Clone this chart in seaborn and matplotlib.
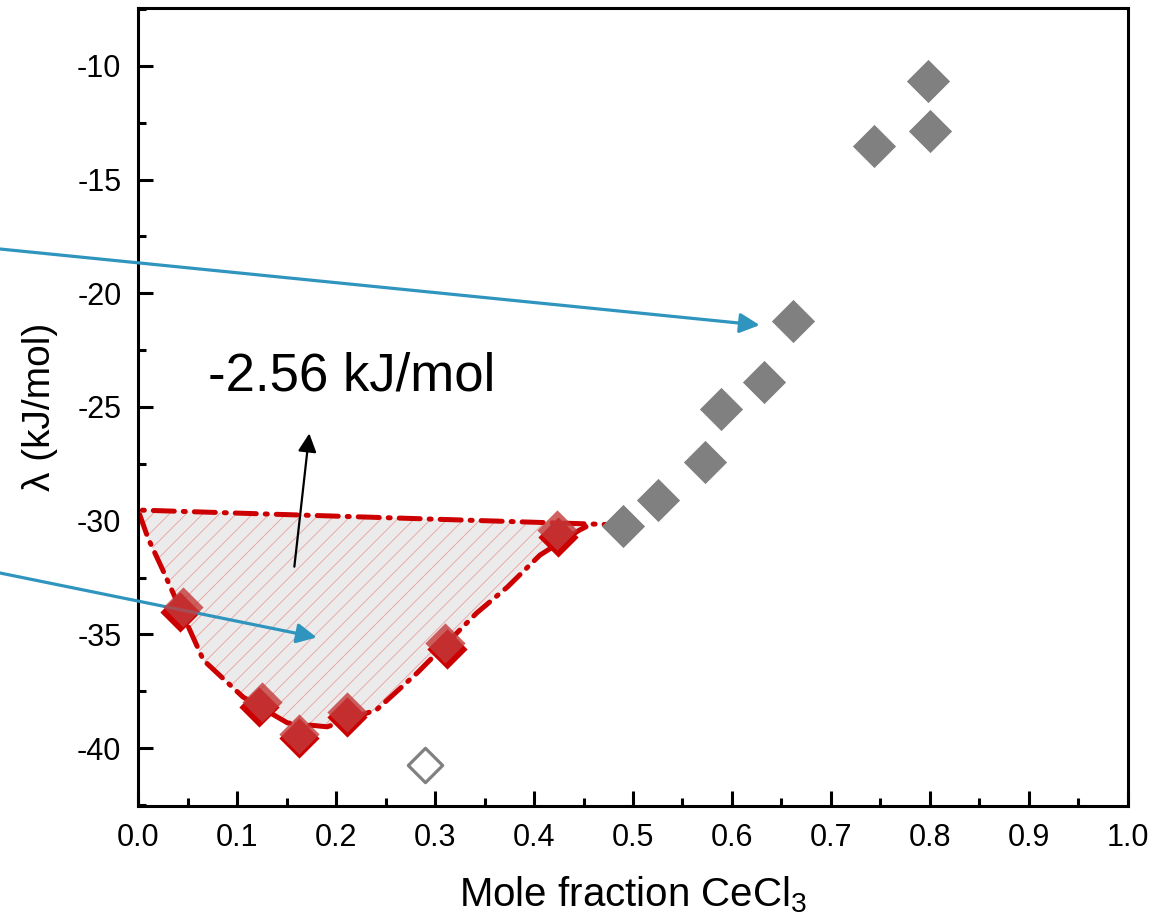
import numpy as np
import pandas as pd
import matplotlib
matplotlib.use("Agg")
import matplotlib.pyplot as plt
import seaborn as sns

# ---- data ----
red_x = [0.0424, 0.1225, 0.1629, 0.2114, 0.3118, 0.4245]
red_y = [-34.00, -38.18, -39.54, -38.64, -35.65, -30.70]
red2_x = [0.0458, 0.1249, 0.1629, 0.2114, 0.3101, 0.4229]
red2_y = [-33.78, -37.96, -39.36, -38.40, -35.39, -30.41]
gray_x = [0.4902, 0.5249, 0.5727, 0.5889, 0.6320, 0.6619, 0.7437, 0.7983, 0.8000]
gray_y = [-30.23, -29.09, -27.43, -25.10, -23.89, -21.22, -13.52, -10.66, -12.87]
open_x = [0.2899]
open_y = [-40.74]
# boundary of the shaded region (top line, then left edge down, bottom, right edge up)
hull_x = [0.492, 0.000, 0.010, 0.025, 0.066, 0.106, 0.151, 0.191, 0.241, 0.282, 0.342, 0.373, 0.406, 0.446, 0.458]
hull_y = [-30.19, -29.53, -30.76, -32.17, -36.13, -37.75, -38.89, -39.06, -38.31, -36.69, -34.06, -32.92, -31.51, -30.41, -30.15]
annot_text = "-2.56 kJ/mol"
x_ticks = [0.0, 0.1, 0.2, 0.3, 0.4, 0.5, 0.6, 0.7, 0.8, 0.9, 1.0]
y_ticks = [-40, -35, -30, -25, -20, -15, -10]

sns.set_theme(style="ticks")
plt.rcParams["font.family"] = ["Liberation Sans", "DejaVu Sans"]
plt.rcParams["mathtext.fontset"] = "custom"
plt.rcParams["mathtext.rm"] = "Liberation Sans"
plt.rcParams["mathtext.it"] = "Liberation Sans:italic"
plt.rcParams["axes.unicode_minus"] = False
plt.rcParams["hatch.linewidth"] = 0.6
plt.rcParams["hatch.color"] = "#eaa0a0"
for k in ["text.color", "axes.labelcolor", "xtick.color", "ytick.color",
          "xtick.labelcolor", "ytick.labelcolor"]:
    plt.rcParams[k] = "black"

fig = plt.figure(figsize=(11.65, 9.23), dpi=100)
ax = fig.add_axes([0.1185, 0.1268, 0.8497, 0.8645])

# shaded region
fx = hull_x[1:] + [hull_x[1]]
fy = hull_y[1:] + [hull_y[1]]
ax.fill(fx, fy, facecolor="#ebebeb", edgecolor="none", zorder=1)
ax.fill(fx, fy, facecolor="none", edgecolor="#eaa0a0", linewidth=0, hatch="//", zorder=1.1)
ax.plot(hull_x, hull_y, color="#cc0000", lw=3.6, linestyle=(0, (4.2, 1.8, 0.4, 1.8)),
        dash_capstyle="round", solid_capstyle="round", zorder=2)

df_gray = pd.DataFrame({"x": gray_x, "y": gray_y})
df_red = pd.DataFrame({"x": red_x, "y": red_y})
df_red2 = pd.DataFrame({"x": red2_x, "y": red2_y})
sns.scatterplot(data=df_gray, x="x", y="y", marker="D", s=22**2, color="#808080",
                linewidth=0, ax=ax, zorder=3)
sns.scatterplot(data=df_red, x="x", y="y", marker="D", s=20.5**2, color="#cc0000",
                linewidth=0, ax=ax, zorder=3)
sns.scatterplot(data=df_red2, x="x", y="y", marker="D", s=20.5**2, color="#c43a3a",
                alpha=0.8, linewidth=0, ax=ax, zorder=3.1)
ax.scatter(open_x, open_y, marker="D", s=17.5**2, facecolor="white", edgecolor="#808080",
           linewidth=2.3, zorder=3)

# annotations
ax.text(0.0707, -24.26, annot_text, fontsize=38, ha="left", va="baseline", color="black")
ax.annotate("", xy=(0.1730, -26.16), xytext=(0.1579, -32.02),
            arrowprops=dict(arrowstyle="-|>", color="black", lw=1.6, mutation_scale=28,
                            shrinkA=0, shrinkB=0))
blue = "#2f95be"
ax.annotate("", xy=(0.628, -21.40), xytext=(0, 674), textcoords="figure pixels",
            arrowprops=dict(arrowstyle="-|>", color=blue, lw=2.3, mutation_scale=30,
                            shrinkA=0, shrinkB=0), annotation_clip=False)
ax.annotate("", xy=(0.1805, -35.13), xytext=(0, 350), textcoords="figure pixels",
            arrowprops=dict(arrowstyle="-|>", color=blue, lw=2.3, mutation_scale=30,
                            shrinkA=0, shrinkB=0), annotation_clip=False)

ax.set_xlim(0, 1.0)
ax.set_ylim(-42.54, -7.46)
ax.set_xticks(x_ticks)
ax.set_xticklabels([f"{v:.1f}" for v in x_ticks])
ax.set_yticks(y_ticks)
ax.set_yticklabels([str(v) for v in y_ticks])
ax.set_xticks(np.arange(0.05, 1.0, 0.1), minor=True)
ax.set_yticks(np.arange(-42.5, -7.4, 5), minor=True)
ax.tick_params(which="both", direction="in", top=False, right=False, width=2.2,
               labelsize=22, pad=12, color="black", labelcolor="black")
ax.tick_params(which="major", length=11)
ax.tick_params(which="minor", length=6)
for sp in ax.spines.values():
    sp.set_linewidth(2.2)
    sp.set_color("black")
    sp.set_visible(True)

ax.set_xlabel("Mole fraction CeCl$_3$", fontsize=29, labelpad=16, color="black")
ax.set_ylabel("λ (kJ/mol)", fontsize=28, labelpad=14, color="black")
ax.set_facecolor("white")

fig.savefig("out.png", dpi=100, facecolor="white")
